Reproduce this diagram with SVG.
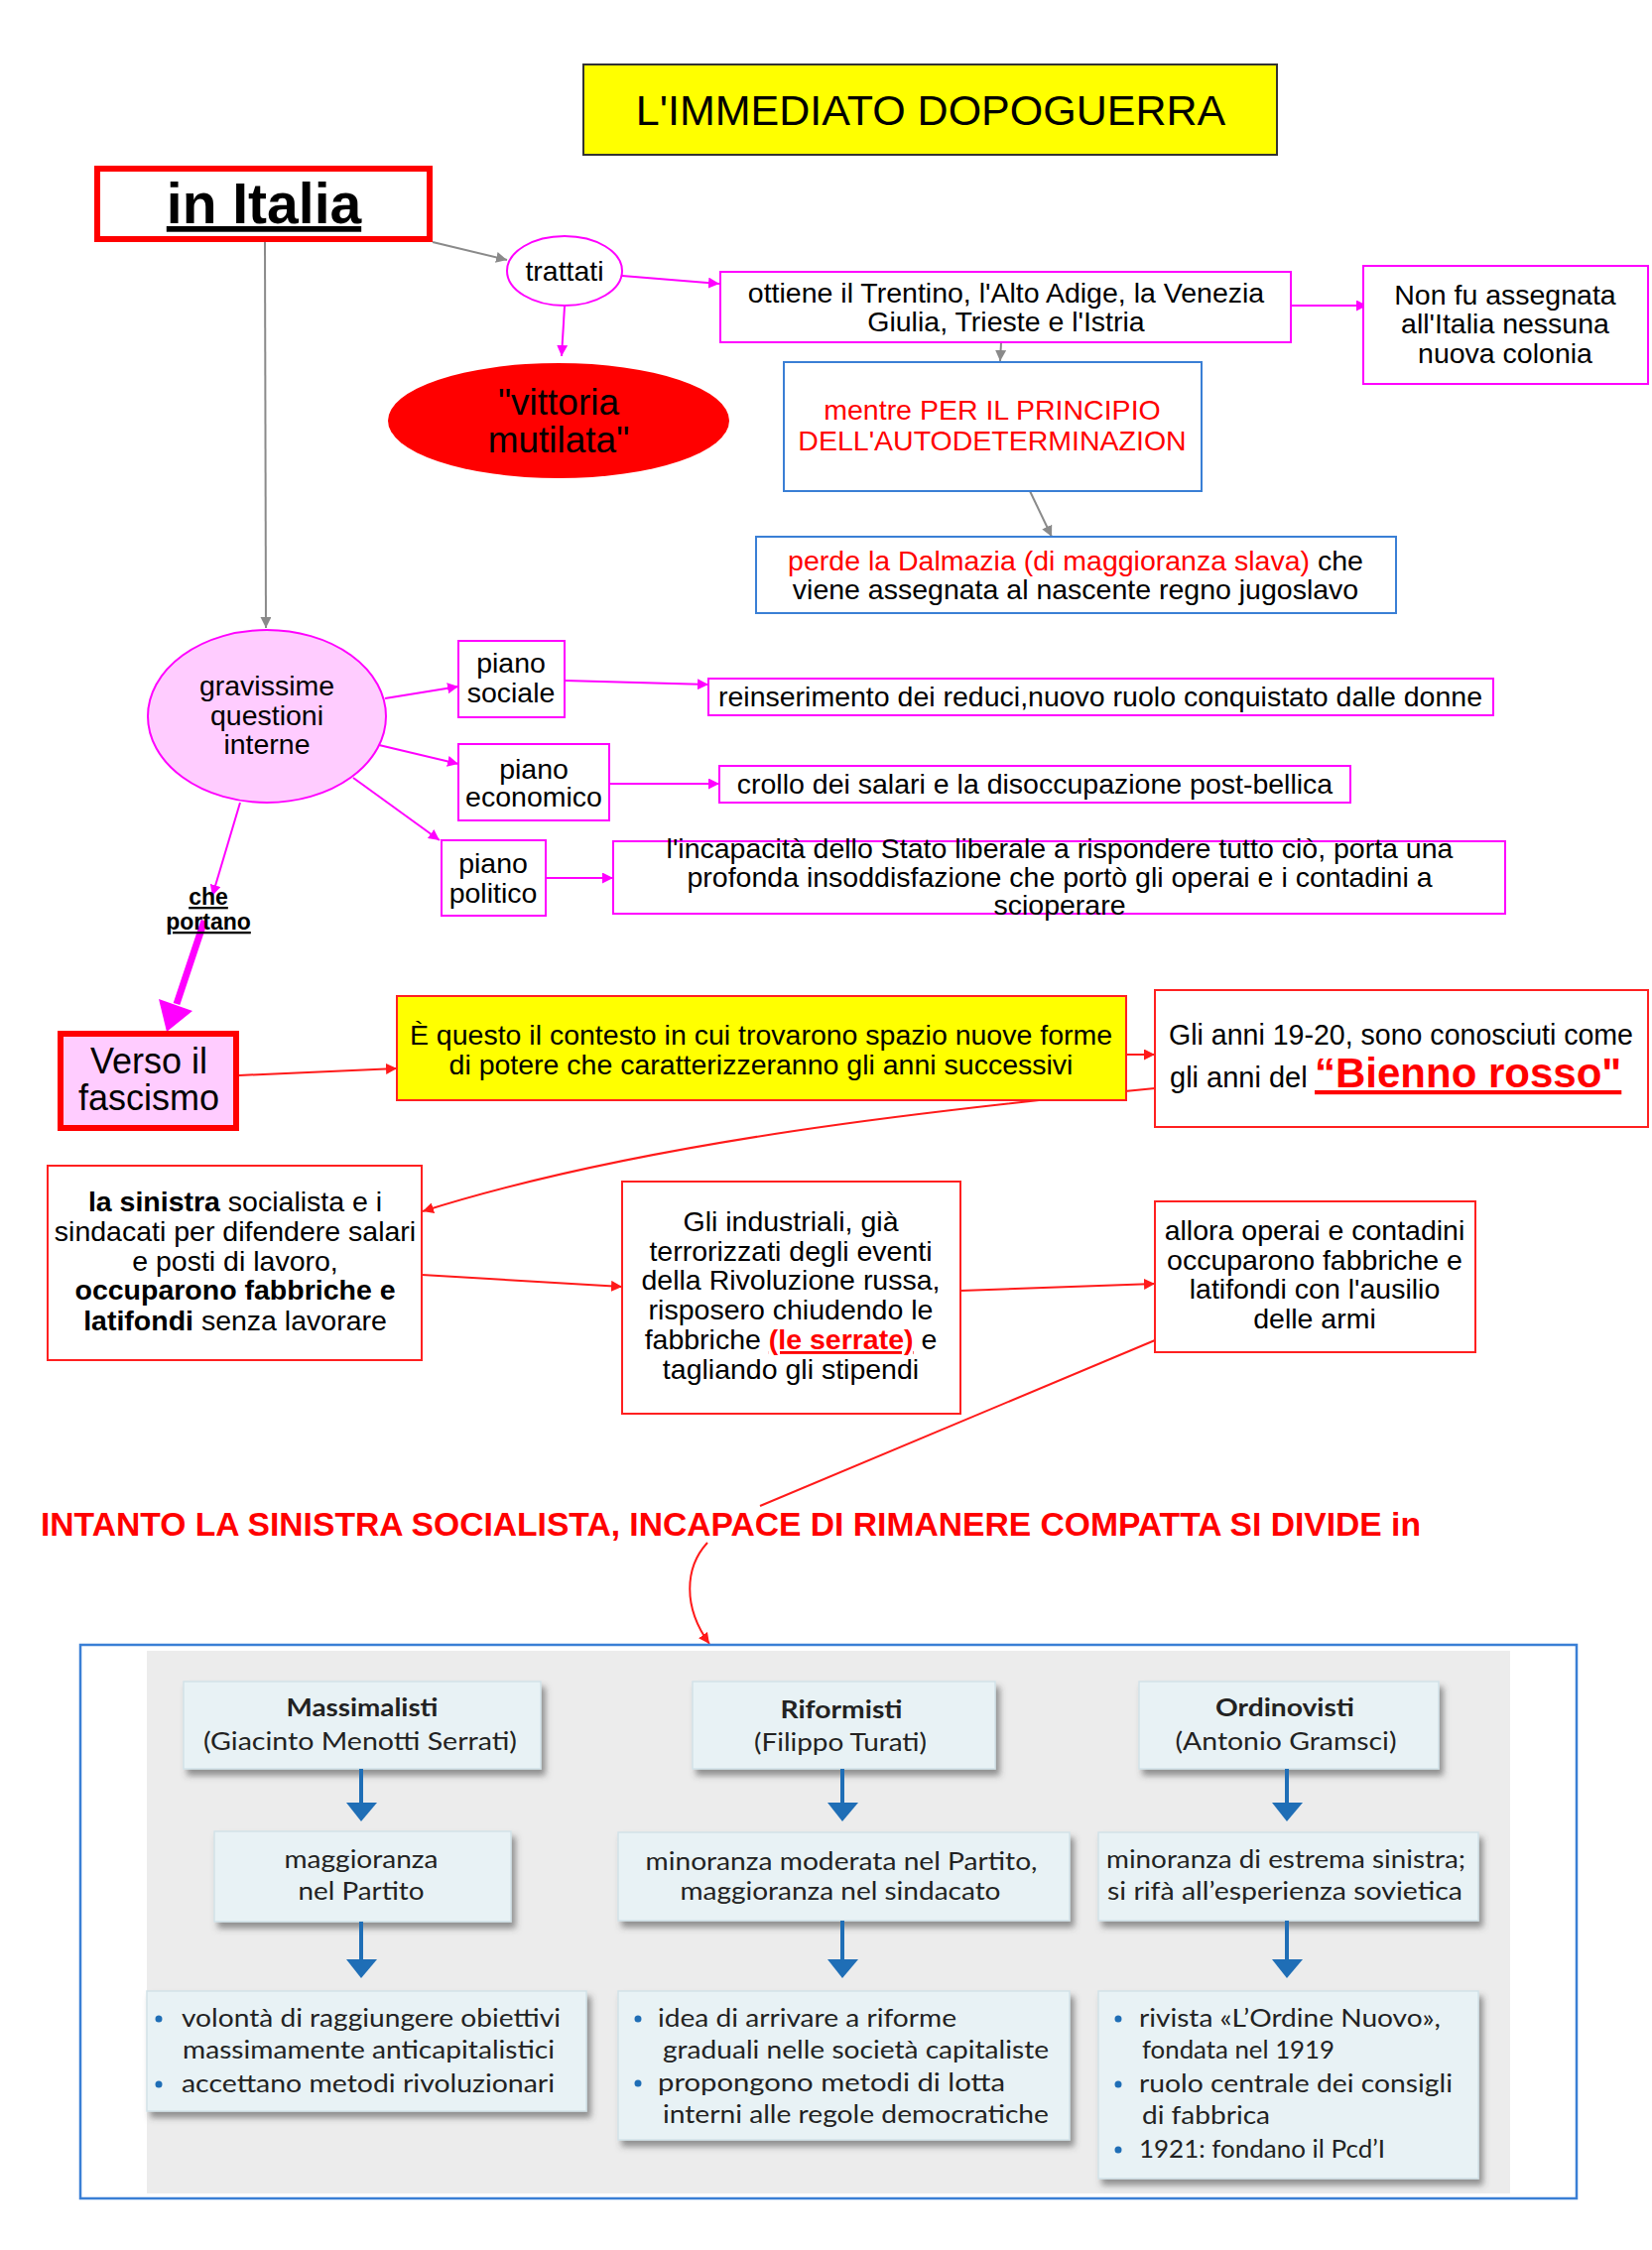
<svg xmlns="http://www.w3.org/2000/svg" width="1665" height="2268" viewBox="0 0 1665 2268">
<style>
.t{font-family:"Liberation Sans",Arial,sans-serif;font-size:28.5px;fill:#000;text-anchor:middle}
.r{fill:#ff0000}
.b{font-weight:bold}
.mgb{fill:#fff;stroke:#ff00ff;stroke-width:2}
.rdb{fill:#fff;stroke:#ff2020;stroke-width:2}
.blb{fill:#fff;stroke:#3a7fd5;stroke-width:2}
.cm{fill:none;stroke:#ff00ff;stroke-width:2}
.cg{fill:none;stroke:#8a8a8a;stroke-width:2}
.cr{fill:none;stroke:#ff1a1a;stroke-width:2}
.bk{font-family:Lato,"Open Sans","Liberation Sans",sans-serif;font-size:25px;fill:#222;text-anchor:middle}
.bkl{text-anchor:start}
.pb{fill:#e8f2f5;stroke:#d2e2e8;stroke-width:1.5}
.ba{stroke:#1f6eb6;stroke-width:4}
.bah{fill:#1f6eb6}
.dot{fill:#1f6eb6}
</style>
<defs>
<marker id="am" viewBox="0 0 10 10" refX="10" refY="5" markerWidth="11" markerHeight="11" markerUnits="userSpaceOnUse" orient="auto"><path d="M0,0 L10,5 L0,10 z" fill="#ff00ff"/></marker>
<marker id="ag" viewBox="0 0 10 10" refX="10" refY="5" markerWidth="11" markerHeight="11" markerUnits="userSpaceOnUse" orient="auto"><path d="M0,0 L10,5 L0,10 z" fill="#8a8a8a"/></marker>
<marker id="ar" viewBox="0 0 10 10" refX="10" refY="5" markerWidth="11" markerHeight="11" markerUnits="userSpaceOnUse" orient="auto"><path d="M0,0 L10,5 L0,10 z" fill="#ff1a1a"/></marker>
<filter id="sh" x="-10%" y="-10%" width="125%" height="135%"><feDropShadow dx="4" dy="6" stdDeviation="3" flood-color="#444" flood-opacity="0.55"/></filter>
</defs>
<rect width="1665" height="2268" fill="#fff"/>

<g id="connectors">
<path class="cg" d="M436,244 L511,262" marker-end="url(#ag)"/>
<path class="cg" d="M267,244 L268,633" marker-end="url(#ag)"/>
<path class="cm" d="M627,278 L725,286" marker-end="url(#am)"/>
<path class="cm" d="M569,309 L566,359" marker-end="url(#am)"/>
<path class="cm" d="M1301,308 L1378,308" marker-end="url(#am)"/>
<path class="cg" d="M1009,345 L1008,364" marker-end="url(#ag)"/>
<path class="cg" d="M1038,495 L1060,541" marker-end="url(#ag)"/>
<path class="cm" d="M388,704 L462,692" marker-end="url(#am)"/>
<path class="cm" d="M569,686 L714,690" marker-end="url(#am)"/>
<path class="cm" d="M382,751 L462,770" marker-end="url(#am)"/>
<path class="cm" d="M614,790 L725,790" marker-end="url(#am)"/>
<path class="cm" d="M356,784 L443,847" marker-end="url(#am)"/>
<path class="cm" d="M550,885 L618,885" marker-end="url(#am)"/>
<path class="cm" d="M242,809 L214,903" marker-end="url(#am)"/>
<path d="M206,928 L178,1012" stroke="#ff00ff" stroke-width="7" fill="none"/>
<polygon points="168,1040 194,1019 160,1007" fill="#ff00ff"/>
<path class="cr" d="M241,1084 L400,1077" marker-end="url(#ar)"/>
<path class="cr" d="M1135,1063 L1164,1063" marker-end="url(#ar)"/>
<path class="cr" d="M1164,1097 C950,1118 650,1150 426,1221" marker-end="url(#ar)"/>
<path class="cr" d="M425,1285 L627,1297" marker-end="url(#ar)"/>
<path class="cr" d="M968,1301 L1164,1294" marker-end="url(#ar)"/>
<path class="cr" d="M1164,1351 L766,1518"/>
<path class="cr" d="M713,1555 C690,1580 688,1620 715,1657" marker-end="url(#ar)"/>
</g>

<g id="title"><rect x="588" y="65" width="699" height="91" fill="#ffff00" stroke="#333" stroke-width="2"/><text class="t" x="938" y="126" style="font-size:43px">L'IMMEDIATO DOPOGUERRA</text></g>

<g id="in-italia"><rect x="98" y="170" width="335" height="71" fill="#fff" stroke="#ff0000" stroke-width="6"/><text class="t b" x="266" y="225" style="font-size:57px" text-decoration="underline">in Italia</text></g>

<g id="trattati"><ellipse cx="569" cy="273" rx="58" ry="35" class="mgb"/><text class="t" x="569" y="283">trattati</text></g>

<g id="vittoria"><ellipse cx="563" cy="424" rx="172" ry="58" fill="#ff0000"/><text class="t" x="563" y="418" style="font-size:37px">"vittoria</text><text class="t" x="563" y="456" style="font-size:37px">mutilata"</text></g>

<g id="ottiene"><rect x="726" y="274" width="575" height="71" class="mgb"/><text class="t" x="1014" y="305">ottiene il Trentino, l'Alto Adige, la Venezia</text><text class="t" x="1014" y="334">Giulia, Trieste e l'Istria</text></g>

<g id="colonia"><rect x="1374" y="268" width="287" height="119" class="mgb"/><text class="t" x="1517" y="307">Non fu assegnata</text><text class="t" x="1517" y="336">all'Italia nessuna</text><text class="t" x="1517" y="366">nuova colonia</text></g>

<g id="principio"><rect x="790" y="365" width="421" height="130" class="blb"/><text class="t r" x="1000" y="423">mentre PER IL PRINCIPIO</text><text class="t r" x="1000" y="454">DELL'AUTODETERMINAZION</text></g>

<g id="dalmazia"><rect x="762" y="541" width="645" height="77" class="blb"/><text class="t" x="1084" y="575"><tspan class="r">perde la Dalmazia (di maggioranza slava)</tspan> che</text><text class="t" x="1084" y="604">viene assegnata al nascente regno jugoslavo</text></g>

<g id="gravissime"><ellipse cx="269" cy="722" rx="120" ry="87" fill="#ffccff" stroke="#ff00ff" stroke-width="2"/><text class="t" x="269" y="701">gravissime</text><text class="t" x="269" y="731">questioni</text><text class="t" x="269" y="760">interne</text></g>

<g id="piano-sociale"><rect x="462" y="646" width="107" height="77" class="mgb"/><text class="t" x="515" y="678">piano</text><text class="t" x="515" y="708">sociale</text></g>
<g id="reinserimento"><rect x="714" y="684" width="791" height="37" class="mgb"/><text class="t" x="1109" y="712">reinserimento dei reduci,nuovo ruolo conquistato dalle donne</text></g>

<g id="piano-economico"><rect x="462" y="750" width="152" height="77" class="mgb"/><text class="t" x="538" y="785">piano</text><text class="t" x="538" y="813">economico</text></g>
<g id="crollo"><rect x="725" y="772" width="636" height="37" class="mgb"/><text class="t" x="1043" y="800">crollo dei salari e la disoccupazione post-bellica</text></g>

<g id="piano-politico"><rect x="445" y="847" width="105" height="76" class="mgb"/><text class="t" x="497" y="880">piano</text><text class="t" x="497" y="910">politico</text></g>
<g id="incapacita"><rect x="618" y="848" width="899" height="73" class="mgb"/><text class="t" x="1068" y="865">l'incapacità dello Stato liberale a rispondere tutto ciò, porta una</text><text class="t" x="1068" y="894">profonda insoddisfazione che portò gli operai e i contadini a</text><text class="t" x="1068" y="922">scioperare</text></g>

<g id="che-portano"><text class="t b" x="210" y="912" style="font-size:23px" text-decoration="underline">che</text><text class="t b" x="210" y="937" style="font-size:23px" text-decoration="underline">portano</text></g>

<g id="verso"><rect x="61" y="1042" width="177" height="95" fill="#ffccff" stroke="#ff0000" stroke-width="6"/><text class="t" x="150" y="1082" style="font-size:36px">Verso il</text><text class="t" x="150" y="1119" style="font-size:36px">fascismo</text></g>

<g id="contesto"><rect x="400" y="1004" width="735" height="105" fill="#ffff00" stroke="#ff2020" stroke-width="2"/><text class="t" x="767" y="1053">È questo il contesto in cui trovarono spazio nuove forme</text><text class="t" x="767" y="1083">di potere che caratterizzeranno gli anni successivi</text></g>

<g id="bienno"><rect x="1164" y="998" width="497" height="138" class="rdb"/><text class="t" x="1412" y="1053" style="font-size:29px" textLength="468" lengthAdjust="spacingAndGlyphs">Gli anni 19-20, sono conosciuti come</text><text class="t" x="1179" y="1096" style="text-anchor:start;font-size:29px">gli anni del <tspan x="1325" class="b r" style="font-size:42px" text-decoration="underline">“Bienno rosso"</tspan></text></g>

<g id="sinistra"><rect x="48" y="1175" width="377" height="196" class="rdb"/><text class="t" x="237" y="1221"><tspan class="b">la sinistra</tspan> socialista e i</text><text class="t" x="237" y="1251">sindacati per difendere salari</text><text class="t" x="237" y="1281">e posti di lavoro,</text><text class="t b" x="237" y="1310">occuparono fabbriche e</text><text class="t" x="237" y="1341"><tspan class="b">latifondi</tspan> senza lavorare</text></g>

<g id="industriali"><rect x="627" y="1191" width="341" height="234" class="rdb"/><text class="t" x="797" y="1241">Gli industriali, già</text><text class="t" x="797" y="1271">terrorizzati degli eventi</text><text class="t" x="797" y="1300">della Rivoluzione russa,</text><text class="t" x="797" y="1330">risposero chiudendo le</text><text class="t" x="797" y="1360">fabbriche <tspan class="b r" text-decoration="underline">(le serrate)</tspan> e</text><text class="t" x="797" y="1390">tagliando gli stipendi</text></g>

<g id="allora"><rect x="1164" y="1211" width="323" height="152" class="rdb"/><text class="t" x="1325" y="1250">allora operai e contadini</text><text class="t" x="1325" y="1280">occuparono fabbriche e</text><text class="t" x="1325" y="1309">latifondi con l'ausilio</text><text class="t" x="1325" y="1339">delle armi</text></g>

<g id="intanto"><text class="t b r" x="41" y="1548" style="text-anchor:start;font-size:34px" textLength="1391" lengthAdjust="spacingAndGlyphs">INTANTO LA SINISTRA SOCIALISTA, INCAPACE DI RIMANERE COMPATTA SI DIVIDE in</text></g>

<g id="correnti">
<rect x="81" y="1658" width="1508" height="558" fill="#fff" stroke="#3a7fd5" stroke-width="2.5"/>
<rect x="148" y="1664" width="1374" height="547" fill="#ececec"/>

<g id="massimalisti" filter="url(#sh)"><rect class="pb" x="185" y="1695" width="360" height="88"/></g>
<text class="bk b" x="365" y="1730" textLength="153" lengthAdjust="spacingAndGlyphs">Massimalisti</text>
<text class="bk" x="363" y="1764" textLength="316" lengthAdjust="spacingAndGlyphs">(Giacinto Menotti Serrati)</text>
<line class="ba" x1="364" y1="1783" x2="364" y2="1820"/><polygon class="bah" points="349,1817 380,1817 364,1836"/>
<g filter="url(#sh)"><rect class="pb" x="216" y="1846" width="299" height="91"/></g>
<text class="bk" x="364" y="1883" textLength="155" lengthAdjust="spacingAndGlyphs">maggioranza</text>
<text class="bk" x="364" y="1915" textLength="127" lengthAdjust="spacingAndGlyphs">nel Partito</text>
<line class="ba" x1="364" y1="1937" x2="364" y2="1978"/><polygon class="bah" points="349,1975 380,1975 364,1994"/>
<g filter="url(#sh)"><rect class="pb" x="148" y="2007" width="443" height="121"/></g>
<circle class="dot" cx="160" cy="2035" r="3.5"/>
<text class="bk bkl" x="183" y="2043" textLength="382" lengthAdjust="spacingAndGlyphs">volontà di raggiungere obiettivi</text>
<text class="bk bkl" x="184" y="2075" textLength="375" lengthAdjust="spacingAndGlyphs">massimamente anticapitalistici</text>
<circle class="dot" cx="160" cy="2101" r="3.5"/>
<text class="bk bkl" x="183" y="2109" textLength="376" lengthAdjust="spacingAndGlyphs">accettano metodi rivoluzionari</text>

<g id="riformisti" filter="url(#sh)"><rect class="pb" x="698" y="1695" width="305" height="88"/></g>
<text class="bk b" x="848" y="1732" textLength="123" lengthAdjust="spacingAndGlyphs">Riformisti</text>
<text class="bk" x="847" y="1765" textLength="174" lengthAdjust="spacingAndGlyphs">(Filippo Turati)</text>
<line class="ba" x1="849" y1="1783" x2="849" y2="1820"/><polygon class="bah" points="834,1817 865,1817 849,1836"/>
<g filter="url(#sh)"><rect class="pb" x="623" y="1847" width="455" height="89"/></g>
<text class="bk" x="848" y="1885" textLength="395" lengthAdjust="spacingAndGlyphs">minoranza moderata nel Partito,</text>
<text class="bk" x="847" y="1915" textLength="323" lengthAdjust="spacingAndGlyphs">maggioranza nel sindacato</text>
<line class="ba" x1="849" y1="1936" x2="849" y2="1978"/><polygon class="bah" points="834,1975 865,1975 849,1994"/>
<g filter="url(#sh)"><rect class="pb" x="623" y="2007" width="455" height="150"/></g>
<circle class="dot" cx="643" cy="2035" r="3.5"/>
<text class="bk bkl" x="663" y="2043" textLength="301" lengthAdjust="spacingAndGlyphs">idea di arrivare a riforme</text>
<text class="bk bkl" x="668" y="2075" textLength="389" lengthAdjust="spacingAndGlyphs">graduali nelle società capitaliste</text>
<circle class="dot" cx="643" cy="2100" r="3.5"/>
<text class="bk bkl" x="663" y="2108" textLength="350" lengthAdjust="spacingAndGlyphs">propongono metodi di lotta</text>
<text class="bk bkl" x="668" y="2140" textLength="389" lengthAdjust="spacingAndGlyphs">interni alle regole democratiche</text>

<g id="ordinovisti" filter="url(#sh)"><rect class="pb" x="1148" y="1695" width="302" height="88"/></g>
<text class="bk b" x="1295" y="1730" textLength="140" lengthAdjust="spacingAndGlyphs">Ordinovisti</text>
<text class="bk" x="1296" y="1764" textLength="223" lengthAdjust="spacingAndGlyphs">(Antonio Gramsci)</text>
<line class="ba" x1="1297" y1="1783" x2="1297" y2="1820"/><polygon class="bah" points="1282,1817 1313,1817 1297,1836"/>
<g filter="url(#sh)"><rect class="pb" x="1107" y="1847" width="383" height="89"/></g>
<text class="bk" x="1296" y="1883" textLength="362" lengthAdjust="spacingAndGlyphs">minoranza di estrema sinistra;</text>
<text class="bk" x="1295" y="1915" textLength="358" lengthAdjust="spacingAndGlyphs">si rifà  all’esperienza sovietica</text>
<line class="ba" x1="1297" y1="1936" x2="1297" y2="1978"/><polygon class="bah" points="1282,1975 1313,1975 1297,1994"/>
<g filter="url(#sh)"><rect class="pb" x="1107" y="2007" width="383" height="189"/></g>
<circle class="dot" cx="1127" cy="2035" r="3.5"/>
<text class="bk bkl" x="1148" y="2043" textLength="304" lengthAdjust="spacingAndGlyphs">rivista «L’Ordine Nuovo»,</text>
<text class="bk bkl" x="1151" y="2075" textLength="194" lengthAdjust="spacingAndGlyphs">fondata nel 1919</text>
<circle class="dot" cx="1127" cy="2101" r="3.5"/>
<text class="bk bkl" x="1148" y="2109" textLength="316" lengthAdjust="spacingAndGlyphs">ruolo centrale dei consigli</text>
<text class="bk bkl" x="1151" y="2141" textLength="129" lengthAdjust="spacingAndGlyphs">di fabbrica</text>
<circle class="dot" cx="1127" cy="2167" r="3.5"/>
<text class="bk bkl" x="1148" y="2175" textLength="248" lengthAdjust="spacingAndGlyphs">1921: fondano il Pcd’I</text>
</g>
</svg>
